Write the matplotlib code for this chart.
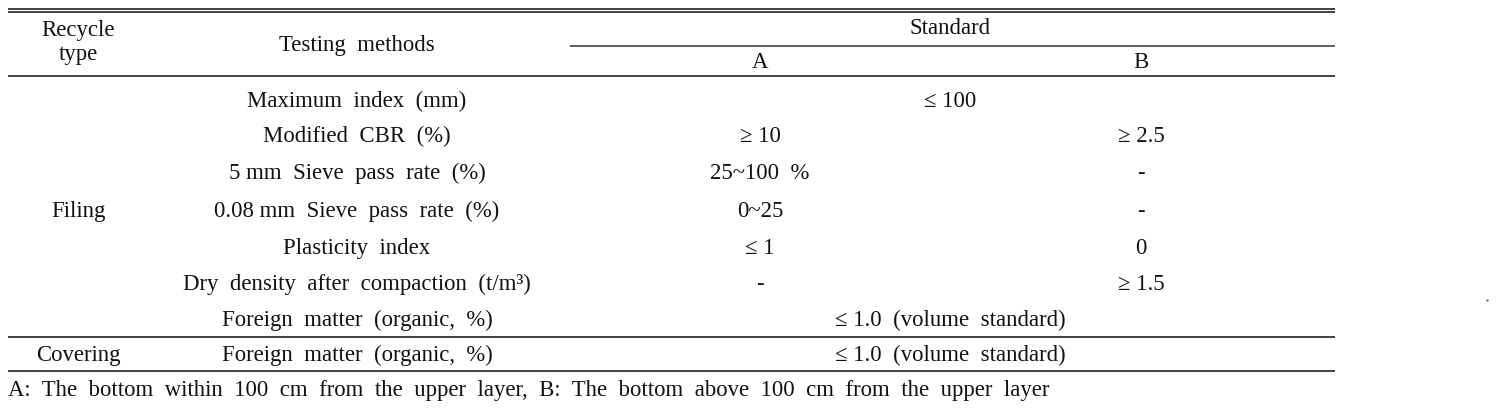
import matplotlib
matplotlib.use("Agg")
import matplotlib.pyplot as plt

plt.rcParams['font.family'] = ['Liberation Serif', 'DejaVu Serif']

W, H = 1496, 408

# ---- table content ----
header_type = "Recycle\ntype"
header_method = "Testing  methods"
header_standard = "Standard"
header_cols = ["A", "B"]

filing_type = "Filing"
filing_methods = [
    "Maximum  index  (mm)",
    "Modified  CBR  (%)",
    "5 mm  Sieve  pass  rate  (%)",
    "0.08 mm  Sieve  pass  rate  (%)",
    "Plasticity  index",
    "Dry  density  after  compaction  (t/m³)",
    "Foreign  matter  (organic,  %)",
]
# None in B means the A value spans both columns
filing_A = ["≤ 100", "≥ 10", "25~100  %", "0~25", "≤ 1", "-", "≤ 1.0  (volume  standard)"]
filing_B = [None, "≥ 2.5", "-", "-", "0", "≥ 1.5", None]

covering_type = "Covering"
covering_method = "Foreign  matter  (organic,  %)"
covering_value = "≤ 1.0  (volume  standard)"

footnote = "A:  The  bottom  within  100  cm  from  the  upper  layer,  B:  The  bottom  above  100  cm  from  the  upper  layer"

# ---- layout (pixels) ----
fig = plt.figure(figsize=(W / 100, H / 100), dpi=100)
ax = fig.add_axes([0, 0, 1, 1])
ax.set_xlim(0, W)
ax.set_ylim(H, 0)
ax.axis('off')

FS = 16.4
DY = 1.5
x0, x1 = 8, 1335
x_type, x_method, x_A, x_B, x_span = 78, 357, 760, 1141, 950

def hline(y, xa=x0, xb=x1, lw=1.3):
    ax.plot([xa, xb], [y, y], color='#333333', lw=lw, solid_capstyle='butt')

def txt(x, y, s, ha='center', size=FS, ls=1.2):
    ax.text(x, y + DY, s, ha=ha, va='center', fontsize=size, color='#111111',
            linespacing=ls)

hline(8.5, lw=1.3)
hline(12, lw=1.3)
hline(45.5, xa=570, lw=1.1)
hline(75.5, lw=1.3)
hline(337, lw=1.3)
hline(371, lw=1.3)

txt(x_type, 41, header_type, ls=1.2)
txt(x_method, 44, header_method)
txt(x_span, 27, header_standard)
txt(x_A, 61, header_cols[0])
txt(x_B, 61, header_cols[1])

row_y = [100, 135, 172, 210, 247, 283, 319]
for y, m, a, b in zip(row_y, filing_methods, filing_A, filing_B):
    txt(x_method, y, m)
    if b is None:
        txt(x_span, y, a)
    else:
        txt(x_A, y, a)
        txt(x_B, y, b)
txt(x_type, 210, filing_type)

txt(x_type, 354, covering_type)
txt(x_method, 354, covering_method)
txt(x_span, 354, covering_value)

txt(8, 389, footnote, ha='left')

ax.plot([1487], [300], marker='o', ms=0.8, color='#777777')

fig.savefig("out.png", dpi=100)
